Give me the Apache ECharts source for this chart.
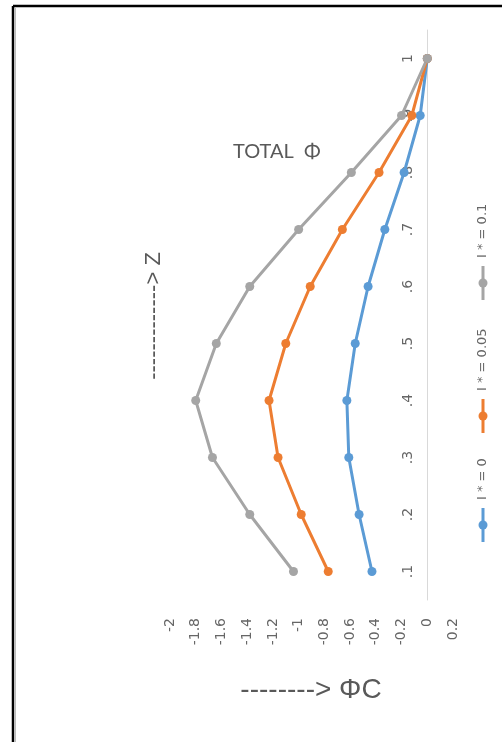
<!DOCTYPE html>
<html>
<head>
<meta charset="utf-8">
<script src="https://cdn.jsdelivr.net/npm/echarts@6/dist/echarts.min.js"></script>
<style>
html,body{margin:0;padding:0;background:#fff;}
#chart{width:502px;height:742px;}
</style>
</head>
<body>
<div id="chart"></div>
<script>
const zCategories = ['.1', '.2', '.3', '.4', '.5', '.6', '.7', '.8', '.9', '1'];
const seriesNames = ['I * = 0', 'I * = 0.05', 'I * = 0.1'];
const phiI0 = [-0.43, -0.53, -0.61, -0.625, -0.56, -0.46, -0.33, -0.18, -0.055, 0];
const phiI005 = [-0.77, -0.98, -1.16, -1.23, -1.10, -0.91, -0.66, -0.375, -0.12, 0];
const phiI01 = [-1.04, -1.38, -1.67, -1.80, -1.64, -1.38, -1.00, -0.59, -0.20, 0];
const seriesColors = ['#5B9BD5', '#ED7D31', '#A5A5A5'];
const valueTicks = { min: -2, max: 0.2, step: 0.2 };

const chart = echarts.init(document.getElementById('chart'));
const dataSets = [phiI0, phiI005, phiI01];
const txt = '#595959';
const font = 'DejaVu Sans';

function legendItem(i, cx, cy) {
  return {
    type: 'group', x: cx, y: cy, rotation: Math.PI / 2,
    children: [
      { type: 'line', shape: { x1: -17, y1: 0, x2: 17, y2: 0 }, style: { stroke: seriesColors[i], lineWidth: 3 } },
      { type: 'circle', shape: { cx: 0, cy: 0, r: 4.5 }, style: { fill: seriesColors[i] } },
      { type: 'text', x: 25, y: 0, style: { text: seriesNames[i], fill: '#666', font: '13px "' + font + '"', align: 'left', verticalAlign: 'middle' } }
    ]
  };
}

chart.setOption({
  animation: false,
  grid: { left: 170, right: 49, top: 30, bottom: 142, containLabel: false },
  xAxis: {
    type: 'value', min: valueTicks.min, max: valueTicks.max, interval: valueTicks.step,
    axisLine: { show: false }, axisTick: { show: false }, splitLine: { show: false },
    axisLabel: {
      rotate: 90, margin: 18, color: '#666', fontSize: 14, fontFamily: font,
      formatter: v => String(Math.round(v * 10) / 10)
    }
  },
  yAxis: {
    type: 'category', data: zCategories, boundaryGap: true, z: 3,
    position: 'left', offset: -257,
    axisLine: { show: true, onZero: false, lineStyle: { color: '#D9D9D9', width: 1 } },
    axisTick: { show: false }, splitLine: { show: false },
    axisLabel: { rotate: 90, margin: 12, color: '#666', fontSize: 14, fontFamily: font }
  },
  series: dataSets.map((d, i) => ({
    name: seriesNames[i], type: 'line', data: d,
    symbol: 'circle', symbolSize: 9, smooth: false,
    lineStyle: { color: seriesColors[i], width: 3 },
    itemStyle: { color: seriesColors[i] }
  })),
  graphic: [
    { type: 'line', shape: { x1: 13, y1: 6, x2: 13, y2: 742 }, style: { stroke: '#000', lineWidth: 2.5 } },
    { type: 'line', shape: { x1: 13, y1: 6, x2: 502, y2: 6 }, style: { stroke: '#000', lineWidth: 2.5 } },
    { type: 'line', shape: { x1: 15.5, y1: 8, x2: 15.5, y2: 742 }, style: { stroke: '#bbb', lineWidth: 1 } },
    { type: 'text', x: 233, y: 152, style: { text: 'TOTAL  Φ', fill: txt, font: '20px Lato', align: 'left', verticalAlign: 'middle' } },
    { type: 'text', x: 154, y: 316, rotation: Math.PI / 2, style: { text: '-------------> Z', fill: txt, font: '22px "Liberation Sans"', align: 'center', verticalAlign: 'middle' } },
    { type: 'text', x: 311, y: 690, style: { text: '--------> ΦC', fill: txt, font: '28px "Liberation Sans"', align: 'center', verticalAlign: 'middle' } },
    legendItem(0, 483, 525),
    legendItem(1, 483, 416),
    legendItem(2, 483, 283)
  ]
});
</script>
</body>
</html>
